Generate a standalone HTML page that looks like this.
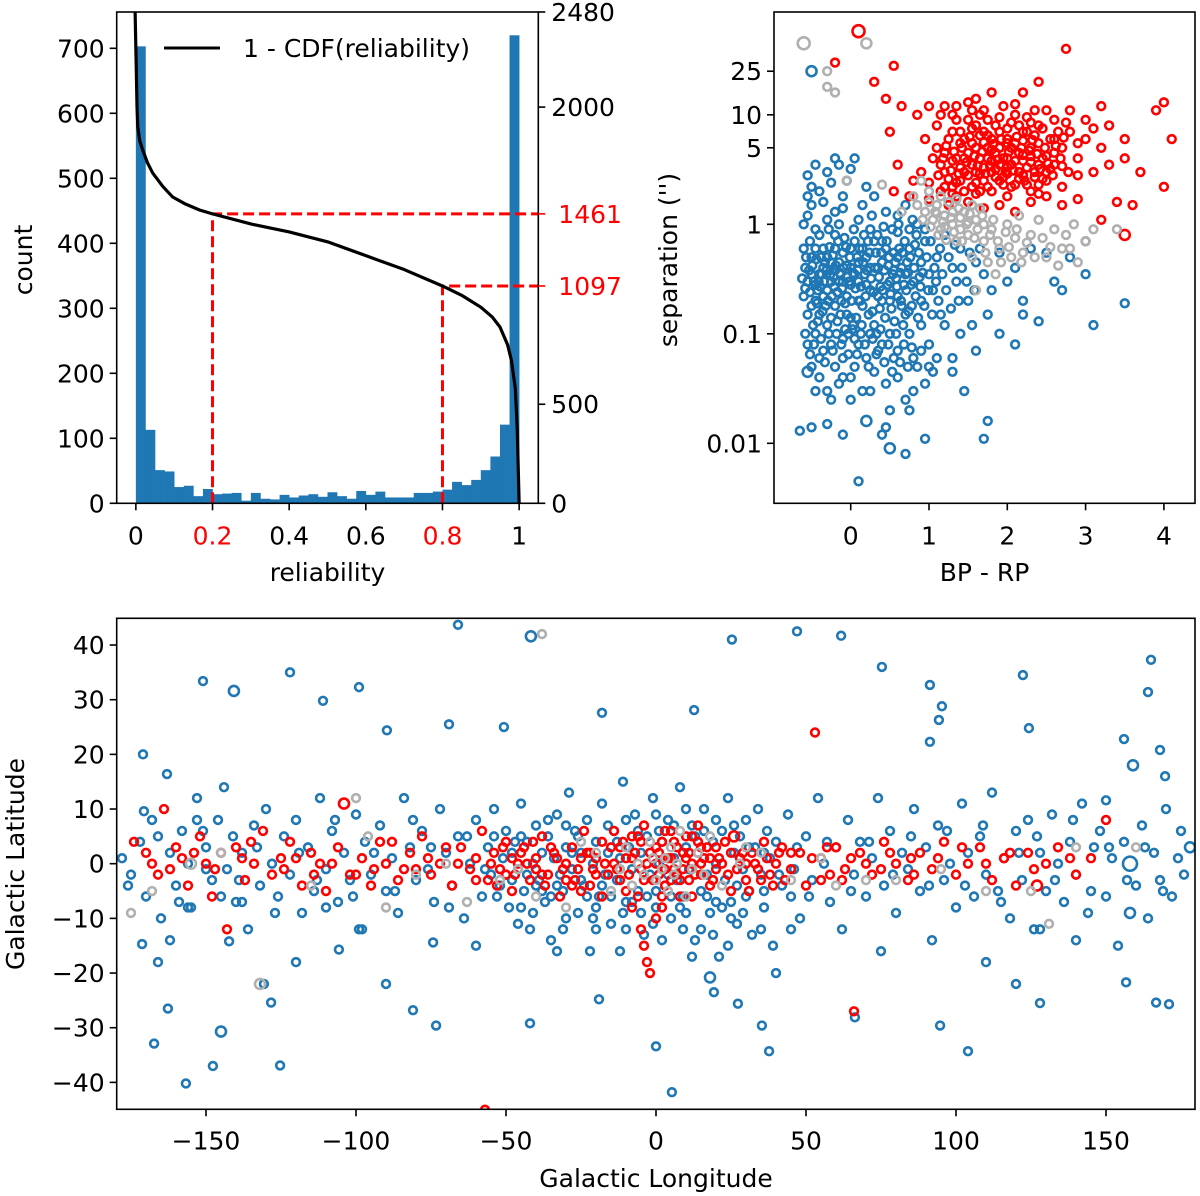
<!DOCTYPE html>
<html><head><meta charset="utf-8"><style>
html,body{margin:0;padding:0;background:#fff;}
svg{display:block;font-family:"DejaVu Sans","Liberation Sans",sans-serif;}
</style></head><body>
<svg id="fig" width="1200" height="1196" viewBox="0 0 1200 1196" xmlns="http://www.w3.org/2000/svg">
<rect width="1200" height="1196" fill="#fff"/>
<g id="hist"></g>
<g id="cmd"></g>
<g id="sky"></g>
</svg>
<script>
// ---------- Histogram data ----------
const histCounts = [703,113,51,49,25,27,11,22,14,15,16,4,16,7,6,13,9,12,14,10,17,11,7,19,13,18,9,9,9,16,16,18,21,33,28,36,51,72,121,720];
const binWidth = 0.025;
const cdfR = [-0.003,0.001,0.003,0.005,0.01,0.018,0.03,0.044,0.07,0.096,0.13,0.167,0.2,0.3,0.4,0.5,0.6,0.7,0.8,0.85,0.9,0.93,0.95,0.97,0.98,0.99,0.995,1.0];
const cdfV = [2700,2200,2000,1900,1830,1783,1720,1667,1600,1546,1510,1480,1461,1410,1370,1320,1250,1180,1097,1050,990,940,890,800,720,580,380,0];
const countTicks = [0,100,200,300,400,500,600,700];
const relTicks = [0,0.2,0.4,0.6,0.8,1];
const relTickLabels = ["0","0.2","0.4","0.6","0.8","1"];
const rightTicks = [0,500,2000,2480];
const thresholds = [0.2,0.8];
const thresholdVals = [1461,1097];

// ---------- Color-separation data: [BP-RP, separation, radius] ----------
const cmdBlue = [[-0.55,0.3],[-0.5,0.5],[-0.45,0.2],[-0.55,0.15],[-0.4,0.35],[-0.35,0.6],[-0.3,0.25],[-0.3,0.12],[-0.25,0.45],[-0.2,0.8],[-0.2,0.18],[-0.15,0.3],[-0.1,0.55],[-0.1,0.09],[-0.05,0.22],[0,0.4],[0,0.14],[0.05,0.7],[0.1,0.3],[0.1,1.1],[0.15,0.18],[0.2,0.5],[0.25,0.25],[0.25,0.9],[0.3,0.12],[0.35,0.4],[0.4,0.7],[0.4,0.2],[0.45,1.3],[0.5,0.3],[0.5,0.1],[0.55,0.55],[0.6,0.85],[0.6,0.22],[0.65,0.4],[0.7,1.5],[0.7,0.15],[0.75,0.6],[0.8,0.3],[0.85,1.0],[0.9,0.45],[0.9,0.2],[0.95,0.7],[1.0,0.35],[1.05,0.25],[1.1,0.5],[1.15,0.15],[1.2,0.8],[1.3,0.4],[1.35,0.3],[1.4,0.6],[1.5,0.2],[1.6,0.45],[1.7,0.35],[1.8,0.25],[1.9,0.55],[2.0,0.3],[2.1,0.4],[2.3,0.6],[2.5,0.55],[2.2,0.2],[1.75,0.15],[1.4,0.1],[1.2,0.12],[1.0,0.08],[0.8,0.06],
[-0.55,0.08],[-0.5,0.05],[-0.45,0.1],[-0.4,0.04],[-0.35,0.07],[-0.3,0.03],[-0.2,0.05],[-0.15,0.035],[-0.1,0.06],[0,0.025],[0.05,0.05],[0.1,0.08],[0.15,0.03],[0.2,0.06],[0.3,0.045],[0.35,0.07],[0.45,0.035],[0.55,0.06],[0.6,0.04],[0.7,0.025],[0.85,0.05],[0.95,0.035],[1.0,0.05],[1.3,0.045],[1.45,0.03],[0.2,0.016,5],[-0.3,0.015],[-0.5,0.014],[-0.1,0.012],[0.4,0.012],[0.95,0.011],[1.7,0.011],[1.75,0.016],[0.7,0.008],[0.1,0.0045],[-0.65,0.013],[0.5,0.009,5],
[-0.5,1.5],[-0.6,1.0],[-0.4,2.0],[-0.3,3.0],[-0.15,3.5],[-0.05,2.5],[0.05,4],[-0.2,1.3],[-0.45,0.9],[0.3,1.8],[0.6,1.2],[0.95,0.9],[-0.5,25,5],[-0.55,2.8],[-0.1,1.8],[0.2,2.2],
[-0.58,0.4],[-0.52,0.7],[-0.48,0.12],[-0.42,0.25],[-0.38,0.5],[-0.32,0.18],[-0.28,0.9],[-0.22,0.33],[-0.18,0.1],[-0.12,0.2],[-0.08,0.75],[-0.02,0.3],[0.02,0.11],[0.08,0.5],[0.12,0.2],[0.18,0.35],[0.22,0.7],[0.28,0.16],[0.32,0.55],[0.38,0.27],[0.42,0.95],[0.48,0.42],[0.52,0.17],[0.58,0.32],[0.62,0.6],[0.68,0.28],[0.72,0.45],[0.78,0.18],[0.82,0.65],[0.88,0.33],
[-0.6,0.22],[-0.6,0.6],[-0.55,1.2],[-0.5,0.35],[-0.5,0.18],[-0.45,0.6],[-0.45,0.28],[-0.4,0.15],[-0.4,0.8],[-0.35,0.4],[-0.35,0.22],[-0.3,0.5],[-0.3,1.1],[-0.25,0.3],[-0.25,0.14],[-0.2,0.6],[-0.2,0.38],[-0.15,0.45],[-0.15,1.0],[-0.1,0.3],[-0.05,0.42],[-0.05,0.15],[0,0.6],[0,0.28],[0.05,0.35],[0.1,0.45],[0.1,0.2],[0.15,0.6],[0.2,0.28],[0.25,0.4],[0.3,0.7],[0.35,0.22],[0.4,0.45],[0.45,0.6],[0.5,0.2],[0.55,0.38],[0.6,0.5],[0.65,0.18],[0.7,0.35],[0.75,0.9],[-0.55,0.045,5],[-0.4,0.06],[-0.25,0.08],[-0.1,0.04],[0.05,0.09],[0.25,0.1],[0.4,0.08],[0.6,0.07],[0.75,0.1],[0.9,0.12],
[-0.62,0.32],[-0.58,0.26],[-0.57,0.5],[-0.53,0.38],[-0.52,0.24],[-0.49,0.42],[-0.47,0.3],[-0.44,0.48],[-0.43,0.19],[-0.41,0.3],[-0.39,0.27],[-0.37,0.35],[-0.36,0.16],[-0.34,0.3],[-0.33,0.45],[-0.31,0.38],[-0.29,0.2],[-0.27,0.62],[-0.26,0.35],[-0.24,0.22],[-0.23,0.52],[-0.21,0.27],[-0.19,0.42],[-0.17,0.24],[-0.16,0.7],[-0.14,0.36],[-0.13,0.15],[-0.11,0.26],[-0.09,0.4],[-0.07,0.19],[-0.06,0.62],[-0.04,0.33],[-0.03,0.1],[-0.01,0.5],[0.01,0.2],[0.03,0.36],[0.04,0.9],[0.06,0.26],[0.07,0.14],[0.09,0.38],[0.11,0.6],[0.13,0.27],[0.14,0.12],[0.16,0.45],[0.17,0.8],[0.19,0.22],[0.21,0.38],[0.23,0.15],[0.24,0.55],[0.26,0.32],[0.27,1.2],[0.29,0.24],[0.31,0.4],[0.33,0.1],[0.34,0.8],[0.36,0.33],[0.37,0.17],[0.39,0.55],[0.41,0.25],[0.43,0.38],[0.44,0.14],[0.46,0.7],[0.47,0.28],[0.49,0.5],[0.51,0.23],[0.53,0.9],[0.54,0.35],[0.56,0.13],[0.57,0.45],[0.59,0.27],[0.61,1.0],[0.63,0.36],[0.64,0.2],[0.66,0.55],[0.67,0.12],[0.69,0.7],[0.71,0.25],[0.73,0.36],[0.74,0.16],[0.76,0.5],[0.77,0.28],[0.79,1.1],[0.81,0.4],[0.83,0.22],[0.84,0.8],[0.86,0.14],[0.87,0.55],[0.89,0.27],[0.92,0.36],[0.94,0.18],[0.97,0.5],[0.99,0.25],[1.02,0.7],[1.04,0.15],[1.07,0.4],[1.09,0.3],[1.12,0.2],[1.14,0.6],[1.17,0.35],[1.22,0.25],[1.25,0.5],[1.28,0.17],[1.33,0.65],[1.38,0.2],[1.42,0.4],[1.48,0.3],[1.52,0.55],[1.58,0.25],[1.65,0.6],
[-0.58,0.1],[-0.52,0.065],[-0.47,0.08],[-0.42,0.13],[-0.38,0.09],[-0.33,0.055],[-0.28,0.1],[-0.23,0.07],[-0.17,0.13],[-0.12,0.08],[-0.07,0.11],[-0.03,0.065],[0.03,0.12],[0.08,0.065],[0.13,0.1],[0.18,0.08],[0.23,0.05],[0.28,0.09],[0.33,0.065],[0.38,0.11],[0.43,0.055],[0.48,0.08],[0.53,0.045],[0.58,0.1],[0.63,0.055],[0.68,0.08],[0.73,0.05],[0.78,0.075],[-0.45,0.03],[-0.25,0.025],[0.0,0.04],[0.25,0.03],[0.5,0.02],[0.8,0.03],[1.1,0.06],[-0.5,2.2],[-0.35,1.6],[-0.25,2.4],[-0.1,1.4],[0.0,3.2],[0.15,1.5],[-0.45,3.5],[-0.55,1.8],[-0.2,4],
[2.4,0.13],[2.7,0.25],[3.0,0.35],[3.1,0.12],[3.5,0.19],[1.9,0.1],[2.1,0.08],[1.6,0.07],[0.9,0.07],[1.3,0.06],[1.05,0.045],[2.6,0.3],[3.0,0.7],[2.8,0.5],[2.2,0.15],[1.55,0.12],[0.45,0.014],[0.75,0.02]];
const cmdRed = [[0.1,58,6],[-0.2,30],[0.3,20],[0.55,28],[0.45,14],[0.65,12],[0.5,7],[1.3,10],[1.8,16],[2.2,16],[2.4,20],[2.75,40],[0.9,3],[0.8,2.5],[0.6,3.5],[0.55,2],[0.75,1.8],[1.1,5],[1.2,3],[1.3,7],[1.35,4],[1.4,2.5],[1.45,6],[1.5,9],[1.55,3.5],[1.6,5],[1.65,2],[1.7,7],[1.75,4],[1.8,3],[1.85,8],[1.9,5],[1.95,2.3],[2.0,6],[2.05,3.5],[2.1,10],[2.15,4.5],[2.2,2.8],[2.25,7],[2.3,5],[2.35,3],[2.4,8],[2.45,4],[2.5,2.5],[2.55,6],[2.6,3.5],[2.7,5],[2.8,7],[2.9,4],[3.0,6],[3.1,3],[3.2,5],[3.3,8],[3.5,4],[3.7,3],[3.9,11],[4.0,13],[4.1,6],[4.0,2.2],[3.4,1.6],[3.6,1.5],[2.7,1.5],[2.9,1.7],[3.5,0.8,5],[3.2,1.1],[1.0,1.7],[1.15,2],[1.25,1.5],[1.35,1.8],[1.5,1.6],[1.7,1.4],[1.9,1.5],[2.1,1.3],[2.3,1.6],[2.5,1.8],[2.7,2.2],[1.2,4.5],[1.4,5.5],[1.6,3],[1.8,6],[2.0,4],[2.2,3.8],[2.4,5.5],[2.6,4.5],[1.3,2.2],[1.5,2.8],[1.7,2.5],[1.9,3.5],[2.1,2.3],[2.3,2],[2.5,3],[1.45,4],[1.65,6.5],[1.85,4.5],[2.05,5],[2.25,3.3],[2.45,2.6],[1.55,11],[1.75,9],[1.95,12],[2.15,8],[2.35,11],[2.6,9],[2.8,11],[3.0,9],[3.2,12],[1.1,8],[1.2,12],[0.95,6],[1.05,4],[1.6,14],[1.0,2.4],[1.4,3.3],[1.8,2],[2.0,2.9],[2.2,5.8],[2.9,2.8],[3.3,3.5],[3.5,6],[2.65,7],[1.55,7.5],[1.75,5],[2.0,7.5],[2.4,3.5],
[1.25,6],[1.35,9],[1.45,2],[1.55,5.5],[1.6,8],[1.65,4],[1.7,3.3],[1.75,6.5],[1.8,4.8],[1.85,2.7],[1.9,7],[1.95,4],[2.0,3.3],[2.05,8.5],[2.1,5.5],[2.15,3],[2.2,4.3],[2.25,9.5],[2.3,3.7],[2.35,6.5],[2.4,2.3],[2.5,4.2],[2.55,3.2],[2.6,6],[2.7,3.4],[2.75,8.5],[1.3,3.8],[1.4,7],[1.5,4.5],[1.6,2.4],[1.7,5.6],[1.8,3.8],[1.9,2.5],[2.0,5.5],[2.1,3.8],[2.2,7],[2.3,4.2],[1.15,3.5],[1.25,2.6],[1.65,10],[2.45,7.5],[2.9,5.5],[3.1,7.5],
[1.12,2.8],[1.18,4],[1.22,5.2],[1.28,3.1],[1.32,4.6],[1.38,2.9],[1.42,5],[1.48,3.7],[1.52,6.3],[1.58,4.2],[1.62,3.4],[1.68,4.6],[1.72,2.9],[1.78,3.4],[1.82,5.4],[1.88,3.9],[1.92,6],[1.98,3],[2.02,4.6],[2.08,3.1],[2.12,6.3],[2.18,5],[2.22,2.5],[2.28,4.7],[2.32,5.9],[2.38,4.4],[2.42,3.2],[2.48,5],[2.52,3.6],[2.58,2.8],[2.62,5.2],[2.68,4],[2.72,6.2],[2.78,3],[1.35,2.4],[1.45,3],[1.55,2.2],[1.65,2.9],[1.75,2.2],[1.85,3.2],[1.95,2.7],[2.05,2.2],[2.15,2.6],[2.25,2.3],[2.35,2.7],[1.2,2.2],[1.3,1.9],[1.6,1.9],[2.0,1.8],[2.4,1.9],[1.5,13],[1.7,11],[1.9,9.5],[2.1,12.5],[2.3,8.5],[2.5,11],[1.35,12],[1.15,10],[0.85,10],[1.0,12]];
const cmdGray = [[-0.6,45,6],[0.2,45,5],[-0.3,25],[-0.3,18],[-0.2,16],[-0.05,2.5],[0.9,2.5],[1.0,2],[1.1,1.5],[1.2,1.2],[1.3,1],[1.4,0.9],[1.5,0.8],[1.6,1.1],[1.7,0.7],[1.8,0.9],[1.9,0.6],[2.0,1.0],[2.1,0.75],[2.2,0.55],[2.3,0.8],[2.5,0.5],[2.7,0.6],[2.9,0.45],[3.0,0.7],[3.1,0.9],[1.15,0.9],[1.35,0.7],[1.55,0.5],[1.75,0.45],[1.25,1.6],[1.45,1.3],[1.05,1.1],[0.95,1.3],[2.4,1.1],[2.6,0.9],[2.8,0.6],[1.65,1.4],[2.05,0.5],[1.85,0.35],[0.65,1.3],[0.8,1.8],[3.4,0.9],[0.4,2.3],[1.6,0.25],[1.2,0.95],[1.3,1.3],[1.5,1.05],[1.1,1.25],[1.4,1.15],[1.7,1.0],[1.0,1.6],
[1.02,0.95],[1.08,1.3],[1.12,0.8],[1.18,1.05],[1.22,0.72],[1.28,1.15],[1.32,0.85],[1.38,1.4],[1.42,0.7],[1.48,1.0],[1.52,1.25],[1.58,0.75],[1.62,0.9],[1.68,1.2],[1.72,0.55],[1.78,0.8],[1.82,1.1],[1.88,0.7],[1.92,0.45],[1.98,0.85],[2.02,0.62],[2.12,0.9],[2.18,0.45],[2.25,0.68],[2.35,0.5],[2.45,0.75],[2.55,0.62],[2.65,0.42],[2.75,0.8],[0.85,1.5],[0.92,1.1],[1.15,1.8],[1.35,1.7],[1.55,1.5],[2.15,1.2],[2.85,1.0]];
const sepTicks = [0.01,0.1,1,5,10,25];
const sepTickLabels = ["0.01","0.1","1","5","10","25"];
const bpTicks = [0,1,2,3,4];

// ---------- Galactic map data: [l, b, radius] ----------
const skyBlue = [[-66,43.7],[-41.7,41.6,5],[47,42.5],[25.3,41],[61.7,41.7],[-151,33.4],[-140.7,31.6,5],[-122,35],[-111,29.8],[-99,32.3],[12.7,28.1],[75.3,36],[91.3,32.7],[122.3,34.5],[165,37.3],[164,31.4],[95.3,28.8],[94.3,26.3],[-50.7,25],[-69,25.5],[-89.7,24.4],[-18,27.6],[156,22.8],[168,20.8],[169.7,16],[159,18,5],[91.3,22.3],[150,11.6],[124.3,24.8],[-171,20],[-163,16.4],[-170.7,9.6],[-153,8],[-156,-8],[-166,-18],[-171.3,-14.7],[-130.7,-22],[-142.3,-14.2],[-105.7,-15.7],[-74.3,-14.4],[-81,-26.8],[-128.3,-25.4],[-145,-30.7,5],[-162.7,-26.5],[-167.3,-32.9],[-147.7,-37],[-156.7,-40.2],[-125.3,-36.9],[-73.3,-29.6],[-42,-29.2],[-19,-24.8],[0,-33.4],[5.3,-41.8],[19.3,-23.5],[18,-20.8,5],[27.3,-25.6],[35.3,-29.6],[37.7,-34.3],[66.3,-28.1],[94.7,-29.6],[104,-34.3],[128,-25.5],[156.7,-21.7],[166.7,-25.4],[171,-25.7],[158,0,7],[128,-12],[-150,-1],[-145,-6],[-162,-14],[-138,-7],[-120,-18],[-90,-22],[-60,-15],[-20,-12],[40,-20],[75,-16],[110,-18],[140,-14],[120,-22],[-110,-8],[-98,-12],
[-178,1],[-175,-2],[-172,4],[-170,-6],[-168,8],[-165,-10],[-162,2],[-160,-4],[-158,6],[-156,0],[-155,-8],[-153,12],[-150,3],[-148,-3],[-146,8],[-144,14],[-143,-1],[-141,5],[-140,-7],[-138,2],[-136,-12],[-134,7],[-132,-4],[-130,10],[-128,0],[-126,-6],[-124,5],[-122,-2],[-120,8],[-118,-9],[-116,3],[-114,-5],[-112,12],[-110,-1],[-108,6],[-106,-7],[-104,2],[-102,-3],[-100,9],[-99,-12],[-97,4],[-95,-2],
[-92,7],[-90,-5],[-88,1],[-86,-9],[-84,12],[-82,3],[-80,-3],[-78,6],[-76,-1],[-74,-7],[-72,10],[-70,2],[-68,-4],[-66,5],[-64,-10],[-62,0],[-60,8],[-58,-6],
[-56,3],[-55,-2],[-54,10],[-52,-4],[-51,1],[-50,6],[-49,-8],[-48,2],[-46,-1],[-45,11],[-44,-5],[-43,4],[-42,-12],[-41,0],[-40,7],[-39,-3],[-38,2],[-37,-7],[-36,5],[-35,-14],[-34,1],[-33,9],[-32,-2],[-31,-5],[-30,3],[-29,13],[-28,-1],[-27,6],[-26,-9],[-25,2],[-24,-4],[-23,8],[-22,-16],[-21,0],[-20,4],[-19,-6],[-18,11],[-17,-2],[-16,2],[-15,-11],[-14,6],[-13,-3],[-12,1],[-11,15],[-10,-7],[-9,3],[-8,-1],[-7,9],[-6,-5],[-5,2],[-4,-13],[-3,5],[-2,-2],[-1,12],[0,-8],[1,0],[2,4],[3,-4],[4,8],[5,-10],[6,1],[7,-3],[8,14],[9,-6],[10,3],[11,-1],[12,7],[13,-14],[14,2],[15,-5],[16,10],[17,-2],[18,-9],[19,4],[20,0],[21,-17],[22,6],[23,-3],[24,12],[25,-7],[26,2],[27,-11],[28,5],[29,-1],[30,8],[31,-5],[32,-13],[33,3],[34,10],[35,-2],[36,-8],[37,6],[38,1],[39,-15],[40,4],[42,-4],[44,9],[46,-1],[48,-10],[50,5],[52,-3],[54,12],[56,0],[58,-7],[60,3],
[-50,-2],[-45,-8],[-40,-4],[-35,-6],[-30,-10],[-25,-3],[-20,-8],[-15,-6],[-10,-12],[-5,-9],[0,-5],[5,-6],[10,-9],[15,-12],[20,-7],[25,-10],[30,-6],[-10,8],[0,9],[10,10],[20,8],[-30,7],[-45,5],[35,-12],[45,-6],
[-57,-1],[-53,-6],[-47,4],[-43,-2],[-38,-5],[-33,-4],[-28,2],[-23,-6],[-18,-4],[-13,4],[-8,-7],[-3,-6],[1,6],[4,-2],[8,-8],[13,5],[17,-6],[22,-8],[27,-4],[31,3],[36,-5],[41,-2],[47,3],[51,-6],[57,4],[-54,5],[-48,-3],[-36,8],[-26,5],[-16,7],[-6,6],[6,7],[16,6],[26,7],[36,2],[-41,-9],[-31,-12],[-21,-10],[-11,-9],[-1,-11],[9,-12],[19,-13],[29,-9],[-12,-16],[2,-14],[12,-17],[24,-15],[-33,-16],[-46,-11],[45,-12],
[-176,-4],[-166,5],[-159,-7],[-151,6],[-139,-3],[-133,3],[-127,-9],[-119,2],[-113,-3],[-107,8],[-101,-6],[-94,2],[-87,-5],[-81,8],[-75,3],[-69,-8],[-63,5],[65,-5],[71,4],[79,-2],[85,5],[91,-4],[97,6],[103,-4],[109,7],[115,-7],[121,2],[127,5],[133,-3],[139,8],[145,-5],[151,3],[157,-3],[163,3],[169,-5],[175,6],
[62,-12],[64,8],[66,-2],[68,4],[70,-6],[72,1],[74,12],[76,-4],[78,6],[80,-9],[82,2],[84,-1],[86,10],[88,-5],[90,3],[92,-14],[94,7],[96,-3],[98,0],[100,-8],[102,11],[104,2],[106,-6],[108,5],[110,-2],[112,13],[114,-5],[116,1],[118,-10],[120,6],[122,-3],[124,8],[126,-12],[128,2],[130,-5],[132,9],[134,0],[136,-7],[138,4],[140,-2],[142,11],[144,-9],[146,3],[148,6],[150,-6],[152,1],[154,-15],[156,4],[158,-9,5],[160,-4],[162,7],[164,-10],[166,2],[168,-3],[170,10],[172,-6],[174,1],[176,-2],[178,3,5]];
const skyRed = [[-174,4],[-170,2],[-166,-2],[-164,10],[-162,-1],[-158,1],[-156,-4],[-152,5],[-150,0],[-148,-6],[-145,2],[-143,-12],[-140,3],[-137,-3],[-134,0],[-131,6],[-128,-2],[-125,1],[-122,4],[-118,-4],[-115,2],[-112,0],[-110,-5],[-106,3],[-104,11,5],[-102,-2],[-98,1],[-95,-4],[-92,4],[-90,0],[-86,-3],[-82,2],[-78,5],[-75,-2],[-72,0],[-68,-4],[-65,3],[-62,-1],[-60,1],[-58,6],[-56,-3],[-54,2],[-52,-1],[-50,4],[-48,-5],[-46,0],[-44,3],[-42,-3],[-40,1],[-38,5],[-36,-2],[-34,2],[-32,-6],[-30,0],[-28,3],[-26,-1],[-24,6],[-22,-4],[-20,1],[-18,4],[-16,-2],[-14,0],[-12,3],[-10,-5],[-8,1],[-6,5],[-4,-3],[-2,2],[0,0],[1,-2],[2,4],[3,-4],[4,1],[5,6],[6,-1],[7,3],[8,-6],[9,2],[10,5],[11,-3],[12,0],[14,4],[15,-2],[16,1],[18,-4],[20,3],[22,0],[24,-2],[26,5,5],[28,1],[30,-3],[32,2],[34,-1],[36,4],[38,-2],[40,0],[42,3],[45,-1],[48,2],[50,-4],[53,24],[55,1],[58,-2],[60,3],[63,-1],[66,-27],[68,2],[72,-2],[76,4],[80,0],[84,-3],[88,2],[92,-1],[96,4],[100,-2],[104,0],[108,3],[112,-3],[116,1],[120,-4],[124,2],[127,-4,5],[130,0],[134,3],[140,-2],[145,1],[150,8],[-57,-45],[-5,-12],[-3,-18],[-2,-20],[-4,-15],[0,-10],
[-55,0],[-50,-2],[-45,2],[-40,-1],[-35,3],[-30,-3],[-25,1],[-20,-2],[-15,3],[-10,1],[-5,-1],[0,3],[5,-3],[10,1],[15,3],[20,-1],[25,2],[30,0],[35,-3],[-12,-3],[-6,-6],[2,-6],[8,-3],[-8,5],[3,6],[12,5],[18,1],[-22,2],[-28,-4],[-38,-2],[-48,1],[45,2],[55,-3],[65,1],[75,-1],[85,1],[-80,-1],[-100,-2],[-120,1],[-135,4],[-160,3],
[-53,-4],[-51,3],[-47,-2],[-43,0],[-41,4],[-37,-4],[-33,1],[-31,-1],[-27,-3],[-23,2],[-21,-1],[-17,0],[-13,-1],[-11,4],[-9,-2],[-7,2],[-5,4],[-3,0],[-1,-3],[1,2],[3,-1],[5,1],[7,-2],[9,-1],[11,2],[13,-2],[15,0],[17,3],[19,-3],[21,1],[23,4],[27,-1],[29,2],[31,-5],[33,0],[37,1],[39,-4],[41,2],[43,-3],[-18,-6],[-8,-8],[2,-8],[12,-6],[-14,6],[-4,7],[6,4],[14,7],[-25,-5],[25,-5],[-60,-3],[-66,0],[-70,3],[-76,1],[-84,-1],[-88,4],[-94,-1],[-108,0],[-114,-2],[-124,-1],[-138,1],[-147,-1],[-154,2],[-168,0],[52,1],[57,3],[62,-3],[70,0],[78,2],[86,-2],[94,1],[102,3],[110,0],[118,2],[126,-1],[138,1]];
const skyGray = [[-175,-9],[-168,-5],[-155,0,5],[-145,2],[-132,-22,5],[-115,-4],[-100,12],[-96,5],[-80,-2],[-70,0],[-63,-7],[-52,-3],[-46,-1],[-38,42],[-30,-8],[-20,2],[-15,-5],[-10,3],[-6,0],[-2,4],[0,-3],[3,1],[6,-2],[8,6],[12,-1],[18,5],[22,-4],[28,0],[35,2],[45,-3],[55,1],[70,-3],[95,-1],[110,-5],[125,-5],[131,-11],[140,3],[160,3],[-4,-2],[2,-1],[5,3],[-8,-4],[10,-6],[14,2],[-1,1],[4,-5],[7,0],[-12,-1],[16,-2],[-25,4],[30,3],[-40,-6],[60,-4],[-90,-8],[80,-3]];
const lonTicks = [-150,-100,-50,0,50,100,150];
const latTicks = [-40,-30,-20,-10,0,10,20,30,40];

const NS = "http://www.w3.org/2000/svg";
const BLUE = "#1f77b4", RED = "#ff0000", GRAY = "#b0b0b0";
function mk(parent, tag, attrs, text) {
  const e = document.createElementNS(NS, tag);
  for (const k in attrs) e.setAttribute(k, attrs[k]);
  if (text !== undefined) e.textContent = text;
  parent.appendChild(e);
  return e;
}
const FS = 25;
const MR = 3.9, MW = 2.6;

// ================= Histogram =================
(function(){
  const g = document.getElementById('hist');
  const L = 116.7, R = 538.3, T = 12, B = 503.3;
  const sx = v => L + (v + 0.05) / 1.1 * (R - L);
  const sy = c => B - c * 0.65;
  const sy2 = c => B - c / 2480 * (B - T);
  histCounts.forEach((c, i) => {
    const x0 = sx(i * binWidth), x1 = sx((i + 1) * binWidth);
    const r = mk(g, 'rect', {x: x0, y: sy(c), width: x1 - x0 + 0.3, height: B - sy(c), fill: BLUE});
    
    
  });
  thresholds.forEach((t, i) => {
    const yv = sy2(thresholdVals[i]);
    const v = mk(g, 'path', {d: `M${sx(t)},${B} L${sx(t)},${yv} L${R},${yv}`, stroke: RED, 'stroke-width': 3, fill: 'none', 'stroke-dasharray': '11,5'});
    
    
  });
  let d = '';
  cdfR.forEach((r, i) => { d += (i ? 'L' : 'M') + sx(r).toFixed(2) + ',' + Math.max(sy2(cdfV[i]), T - 20).toFixed(2); });
  const cp = mk(g, 'clipPath', {id: 'hclip'});
  mk(cp, 'rect', {x: L, y: T, width: R - L, height: B - T});
  const line = mk(g, 'path', {d: d, stroke: '#000', 'stroke-width': 3.2, fill: 'none', 'stroke-linejoin': 'round', 'clip-path': 'url(#hclip)'});
  
  
  mk(g, 'rect', {x: L, y: T, width: R - L, height: B - T, fill: 'none', stroke: '#000', 'stroke-width': 1.6});
  countTicks.forEach(c => {
    mk(g, 'line', {x1: L - 7, x2: L, y1: sy(c), y2: sy(c), stroke: '#000', 'stroke-width': 1.6});
    const t = mk(g, 'text', {x: L - 12, y: sy(c) + 9, 'text-anchor': 'end', 'font-size': FS}, String(c));
    
    
  });
  relTicks.forEach((r, i) => {
    mk(g, 'line', {x1: sx(r), x2: sx(r), y1: B, y2: B + 7, stroke: '#000', 'stroke-width': 1.6});
    const red = thresholds.includes(r);
    const t = mk(g, 'text', {x: sx(r), y: B + 41, 'text-anchor': 'middle', 'font-size': FS, fill: red ? RED : '#000'}, relTickLabels[i]);
    
    
  });
  rightTicks.forEach(c => {
    mk(g, 'line', {x1: R, x2: R + 7, y1: sy2(c), y2: sy2(c), stroke: '#000', 'stroke-width': 1.6});
    const t = mk(g, 'text', {x: R + 13, y: sy2(c) + 9, 'font-size': FS}, String(c));
    
    
  });
  thresholdVals.forEach(c => {
    mk(g, 'line', {x1: R, x2: R + 7, y1: sy2(c), y2: sy2(c), stroke: RED, 'stroke-width': 1.6});
    const t = mk(g, 'text', {x: R + 20, y: sy2(c) + 9, 'font-size': FS, fill: RED}, String(c));
    
    
  });
  const xl = mk(g, 'text', {x: (L + R) / 2, y: 581, 'text-anchor': 'middle', 'font-size': FS}, 'reliability');
  
  
  const yl = mk(g, 'text', {x: 0, y: 0, transform: 'translate(32,260) rotate(-90)', 'text-anchor': 'middle', 'font-size': FS}, 'count');
  
  
  mk(g, 'line', {x1: 164, x2: 220, y1: 48, y2: 48, stroke: '#000', 'stroke-width': 3});
  const lg = mk(g, 'text', {x: 243, y: 57, 'font-size': FS}, '1 - CDF(reliability)');
  
  
})();

// ================= Color-separation scatter =================
(function(){
  const g = document.getElementById('cmd');
  const L = 774, R = 1195, T = 12, B = 503.3;
  const sx = v => 850.7 + v * 78.3;
  const sy = s => 224.3 - Math.log10(s) * 109.5;
  const cp = mk(g, 'clipPath', {id: 'cclip'});
  mk(cp, 'rect', {x: L, y: T, width: R - L, height: B - T});
  const pts = mk(g, 'g', {'clip-path': 'url(#cclip)', fill: 'none', 'stroke-width': MW});
  [[cmdBlue, BLUE, 'blue'], [cmdRed, RED, 'red'], [cmdGray, GRAY, 'gray']].forEach(([arr, col, nm]) => {
    arr.forEach(p => {
      const c = mk(pts, 'circle', {cx: sx(p[0]), cy: sy(p[1]), r: p[2] || MR, stroke: col});
      
      
    });
  });
  mk(g, 'rect', {x: L, y: T, width: R - L, height: B - T, fill: 'none', stroke: '#000', 'stroke-width': 1.6});
  sepTicks.forEach((s, i) => {
    mk(g, 'line', {x1: L - 7, x2: L, y1: sy(s), y2: sy(s), stroke: '#000', 'stroke-width': 1.6});
    const t = mk(g, 'text', {x: L - 12, y: sy(s) + 9, 'text-anchor': 'end', 'font-size': FS}, sepTickLabels[i]);
    
    
  });
  bpTicks.forEach(v => {
    mk(g, 'line', {x1: sx(v), x2: sx(v), y1: B, y2: B + 7, stroke: '#000', 'stroke-width': 1.6});
    const t = mk(g, 'text', {x: sx(v), y: B + 41, 'text-anchor': 'middle', 'font-size': FS}, String(v));
    
    
  });
  const xl = mk(g, 'text', {x: (L + R) / 2, y: 581, 'text-anchor': 'middle', 'font-size': FS}, 'BP - RP');
  
  
  const yl = mk(g, 'text', {x: 0, y: 0, transform: 'translate(677,260) rotate(-90)', 'text-anchor': 'middle', 'font-size': FS}, "separation ('')");
  
  
})();

// ================= Galactic map =================
(function(){
  const g = document.getElementById('sky');
  const L = 116.7, R = 1195, T = 618.3, B = 1109.3;
  const sx = l => 656 + l * 3.0;
  const sy = b => 863.7 - b * 5.467;
  const cp = mk(g, 'clipPath', {id: 'sclip'});
  mk(cp, 'rect', {x: L, y: T, width: R - L, height: B - T});
  const pts = mk(g, 'g', {'clip-path': 'url(#sclip)', fill: 'none', 'stroke-width': MW});
  [[skyBlue, BLUE, 'blue'], [skyRed, RED, 'red'], [skyGray, GRAY, 'gray']].forEach(([arr, col, nm]) => {
    arr.forEach(p => {
      const c = mk(pts, 'circle', {cx: sx(p[0]), cy: sy(p[1]), r: p[2] || MR, stroke: col});
      
      
    });
  });
  mk(g, 'rect', {x: L, y: T, width: R - L, height: B - T, fill: 'none', stroke: '#000', 'stroke-width': 1.6});
  latTicks.forEach(b => {
    mk(g, 'line', {x1: L - 7, x2: L, y1: sy(b), y2: sy(b), stroke: '#000', 'stroke-width': 1.6});
    const t = mk(g, 'text', {x: L - 12, y: sy(b) + 9, 'text-anchor': 'end', 'font-size': FS}, b < 0 ? '\u2212' + (-b) : String(b));
    
    
  });
  lonTicks.forEach(l => {
    mk(g, 'line', {x1: sx(l), x2: sx(l), y1: B, y2: B + 7, stroke: '#000', 'stroke-width': 1.6});
    const t = mk(g, 'text', {x: sx(l), y: B + 40, 'text-anchor': 'middle', 'font-size': FS}, l < 0 ? '\u2212' + (-l) : String(l));
    
    
  });
  const xl = mk(g, 'text', {x: 656, y: 1187, 'text-anchor': 'middle', 'font-size': FS}, 'Galactic Longitude');
  
  
  const yl = mk(g, 'text', {x: 0, y: 0, transform: 'translate(24,864) rotate(-90)', 'text-anchor': 'middle', 'font-size': FS}, 'Galactic Latitude');
  
  
})();
</script>
</body></html>
